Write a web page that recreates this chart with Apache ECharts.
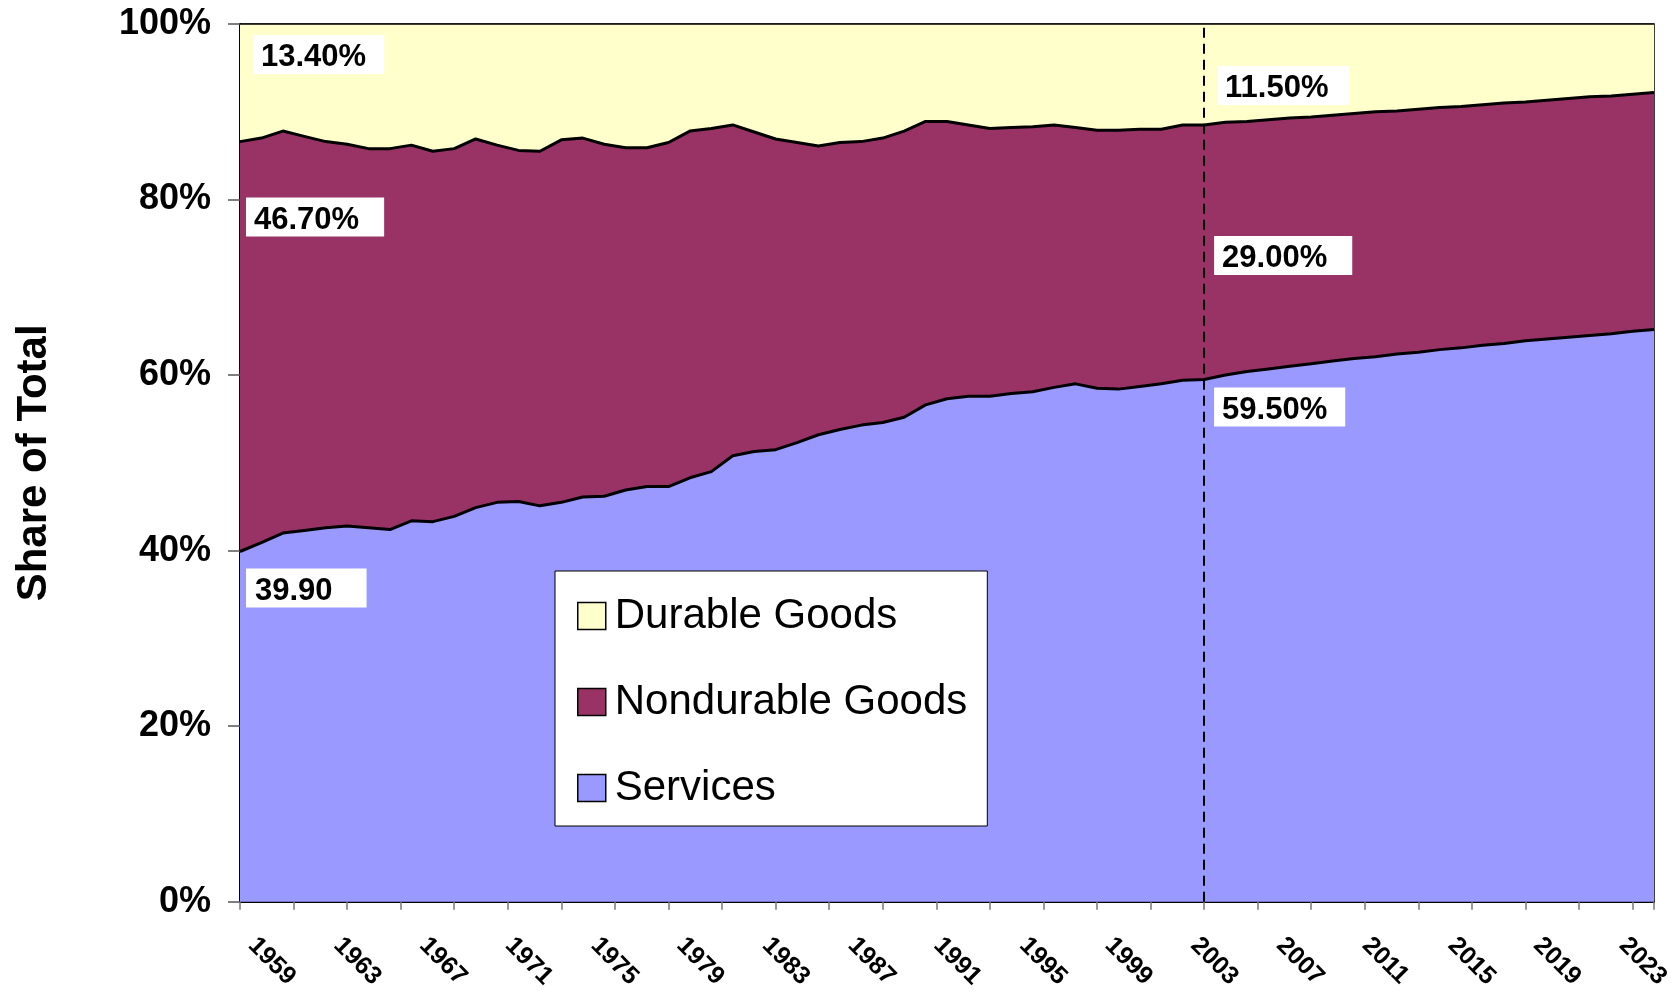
<!DOCTYPE html>
<html>
<head>
<meta charset="utf-8">
<script src="https://cdn.jsdelivr.net/npm/echarts@6/dist/echarts.min.js"></script>
<style>
html, body { margin: 0; padding: 0; background: #fff; }
#myChart { width: 1680px; height: 992px; }
</style>
</head>
<body>
<div id="myChart"></div>
<script>
// years on the category axis, one point per year
var years = ['1959','1960','1961','1962','1963','1964','1965','1966','1967','1968',
  '1969','1970','1971','1972','1973','1974','1975','1976','1977','1978',
  '1979','1980','1981','1982','1983','1984','1985','1986','1987','1988',
  '1989','1990','1991','1992','1993','1994','1995','1996','1997','1998',
  '1999','2000','2001','2002','2003','2004','2005','2006','2007','2008',
  '2009','2010','2011','2012','2013','2014','2015','2016','2017','2018',
  '2019','2020','2021','2022','2023','2024','2025'];

// shares of total (%)
var services = [39.9, 40.9, 42.0, 42.3, 42.6, 42.8, 42.6, 42.4, 43.4, 43.3,
  43.9, 44.9, 45.5, 45.6, 45.1, 45.5, 46.1, 46.2, 46.9, 47.3,
  47.3, 48.3, 49.0, 50.8, 51.3, 51.5, 52.3, 53.2, 53.8, 54.3,
  54.6, 55.2, 56.6, 57.3, 57.6, 57.6, 57.9, 58.1, 58.6, 59.0,
  58.5, 58.4, 58.7, 59.0, 59.4, 59.5, 60.0, 60.4, 60.7, 61.0,
  61.3, 61.6, 61.9, 62.1, 62.4, 62.6, 62.9, 63.1, 63.4, 63.6,
  63.9, 64.1, 64.3, 64.5, 64.7, 65.0, 65.2];

var nondurable = [46.7, 46.1, 45.8, 44.9, 44.0, 43.5, 43.2, 43.4, 42.8, 42.2,
  41.9, 42.0, 40.7, 40.0, 40.4, 41.3, 40.9, 40.1, 39.0, 38.6,
  39.2, 39.5, 39.1, 37.7, 36.4, 35.4, 34.2, 32.9, 32.7, 32.3,
  32.4, 32.6, 32.3, 31.6, 30.9, 30.5, 30.3, 30.2, 29.9, 29.2,
  29.4, 29.5, 29.3, 29.0, 29.1, 29.0, 28.8, 28.5, 28.4, 28.3,
  28.1, 28.0, 27.9, 27.9, 27.7, 27.7, 27.6, 27.5, 27.4, 27.4,
  27.2, 27.2, 27.2, 27.2, 27.1, 27.0, 27.0];

var durable = [13.4, 13.0, 12.2, 12.8, 13.4, 13.7, 14.2, 14.2, 13.8, 14.5,
  14.2, 13.1, 13.8, 14.4, 14.5, 13.2, 13.0, 13.7, 14.1, 14.1,
  13.5, 12.2, 11.9, 11.5, 12.3, 13.1, 13.5, 13.9, 13.5, 13.4,
  13.0, 12.2, 11.1, 11.1, 11.5, 11.9, 11.8, 11.7, 11.5, 11.8,
  12.1, 12.1, 12.0, 12.0, 11.5, 11.5, 11.2, 11.1, 10.9, 10.7,
  10.6, 10.4, 10.2, 10.0, 9.9, 9.7, 9.5, 9.4, 9.2, 9.0,
  8.9, 8.7, 8.5, 8.3, 8.2, 8.0, 7.8];

var yTicks = [0, 20, 40, 60, 80, 100];
var splitYear = '2004';   // dashed divider

// which points carry a value box: [dataIndex, offsetX, offsetY, padRight, padLeft, suffix]
var servicesLabels = [[0, 6, 17, 34, 9, ''], [45, 10, 8, 18, 8, '%']];
var nondurableLabels = [[0, 6, 56, 25, 8, '%'], [45, 10, 111, 25, 8, '%']];
var durableLabels = [[0, 13, 11, 18, 8, '%'], [45, 13, 42, 21, 8, '%']];

function withLabels(values, spots) {
  return values.map(function (v, i) {
    var s = spots.find(function (p) { return p[0] === i; });
    if (!s) return v;
    return {
      value: v,
      label: {
        show: true,
        position: [s[1], s[2]],
        formatter: v.toFixed(2) + s[5],
        backgroundColor: '#fff',
        padding: [7, s[3], 1, s[4]],
        color: '#000',
        fontFamily: 'Liberation Sans',
        fontWeight: 'bold',
        fontSize: 31,
        lineHeight: 31
      }
    };
  });
}

let myChart = echarts.init(document.getElementById('myChart'));

let option = {
  backgroundColor: '#fff',
  animation: false,
  grid: {
    left: 240, right: 26, top: 24, bottom: 90,
    show: true, borderColor: '#000', borderWidth: 1.5
  },
  legend: {
    data: ['Durable Goods', 'Nondurable Goods', 'Services'],
    z: 20,
    orient: 'vertical',
    left: 555, top: 571,
    padding: [24, 20, 17, 22],
    backgroundColor: '#fff',
    borderColor: '#000',
    borderWidth: 1,
    itemWidth: 28,
    itemHeight: 27,
    itemGap: 44,
    icon: 'rect',
    itemStyle: { borderColor: '#000', borderWidth: 1.5 },
    textStyle: {
      fontFamily: 'Liberation Sans', fontSize: 42, color: '#000',
      padding: [0, 0, 0, 4]
    }
  },
  xAxis: [
    {
      type: 'category',
      data: years,
      boundaryGap: false,
      axisLine: { lineStyle: { color: '#000', width: 2 } },
      axisTick: { show: false },
      axisLabel: {
        interval: 3,
        rotate: -45,
        margin: 28,
        padding: [0, 0, 0, 17],
        color: '#000',
        fontFamily: 'Liberation Sans',
        fontWeight: 'bold',
        fontSize: 25
      },
      splitLine: { show: false }
    },
    {
      // tick marks only, every two and a half points
      type: 'value',
      position: 'bottom',
      min: 0, max: years.length - 1, interval: 2.5,
      axisLine: { show: false },
      axisLabel: { show: false },
      splitLine: { show: false },
      axisTick: { show: true, length: 8, lineStyle: { color: '#777', width: 1.5 } }
    }
  ],
  yAxis: {
    type: 'value',
    min: yTicks[0], max: yTicks[yTicks.length - 1], interval: 20,
    name: 'Share of Total',
    nameLocation: 'middle',
    nameGap: 185,
    nameTextStyle: {
      fontFamily: 'Liberation Sans', fontWeight: 'bold', fontSize: 42, color: '#000'
    },
    axisLine: { show: true, lineStyle: { color: '#000', width: 2 } },
    axisTick: { show: true, length: 12, lineStyle: { color: '#555', width: 1.5 } },
    axisLabel: {
      formatter: '{value}%',
      margin: 29,
      color: '#000',
      fontFamily: 'Liberation Sans',
      fontWeight: 'bold',
      fontSize: 36
    },
    splitLine: { show: false }
  },
  series: [
    {
      name: 'Services',
      type: 'line',
      stack: 'total',
      z: 4,
      symbol: 'circle', symbolSize: 0,
      showSymbol: true, showAllSymbol: true,
      itemStyle: { color: '#9999FF' },
      lineStyle: { color: '#000', width: 3 },
      areaStyle: { color: '#9999FF', opacity: 1 },
      data: withLabels(services, servicesLabels),
      markLine: {
        silent: true,
        symbol: 'none',
        label: { show: false },
        lineStyle: { color: '#000', type: [10, 6], width: 2 },
        data: [{ xAxis: splitYear }]
      }
    },
    {
      name: 'Nondurable Goods',
      type: 'line',
      stack: 'total',
      z: 3,
      symbol: 'circle', symbolSize: 0,
      showSymbol: true, showAllSymbol: true,
      itemStyle: { color: '#993366' },
      lineStyle: { color: '#000', width: 3 },
      areaStyle: { color: '#993366', opacity: 1 },
      data: withLabels(nondurable, nondurableLabels)
    },
    {
      name: 'Durable Goods',
      type: 'line',
      stack: 'total',
      z: 2,
      symbol: 'circle', symbolSize: 0,
      showSymbol: true, showAllSymbol: true,
      itemStyle: { color: '#FFFFCC' },
      lineStyle: { color: '#000', width: 1.5 },
      areaStyle: { color: '#FFFFCC', opacity: 1 },
      data: withLabels(durable, durableLabels)
    }
  ]
};

myChart.setOption(option);
</script>
</body>
</html>
